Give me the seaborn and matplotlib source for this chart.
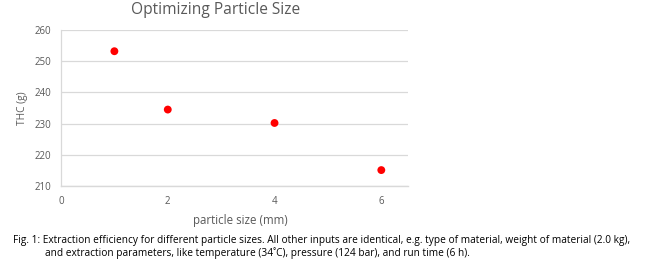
import matplotlib
matplotlib.use("Agg")
import matplotlib.pyplot as plt
import seaborn as sns
import pandas as pd

particle_size = [1, 2, 4, 6]
thc = [253.2, 234.5, 230.2, 215.1]
x_ticks = [0, 2, 4, 6]
y_ticks = [210, 220, 230, 240, 250, 260]

sns.set_style("white")
plt.rcParams['font.family'] = ['Open Sans', 'DejaVu Sans']

df = pd.DataFrame({"particle size (mm)": particle_size, "THC (g)": thc})

fig = plt.figure(figsize=(6.52, 2.62), dpi=100)
ax = fig.add_axes([61/652, 1-186/262, (408-61)/652, (186-30)/262])
sns.scatterplot(data=df, x="particle size (mm)", y="THC (g)", ax=ax,
                color="#ff0000", s=32, edgecolor="none", zorder=3)
ax.set_xlim(0, 6.5)
ax.set_ylim(210, 260)
ax.set_xticks(x_ticks)
ax.set_yticks(y_ticks)
ax.grid(axis="y", color="#d9d9d9", linewidth=0.9)
ax.grid(axis="x", visible=False)
for s in ["top", "right"]:
    ax.spines[s].set_visible(False)
ax.spines["left"].set_color("#d9d9d9")
ax.spines["bottom"].set_color("#d9d9d9")
ax.spines["left"].set_linewidth(0.9)
ax.spines["bottom"].set_linewidth(1.0)
ax.tick_params(axis="both", length=0, labelsize=7, colors="#595959", pad=7)
ax.set_xlabel("particle size (mm)", fontsize=8.3, color="#595959")
ax.xaxis.set_label_coords(0.516, -0.224)
ax.xaxis.label.set_va("center")
ax.set_ylabel("THC (g)", fontsize=7.3, color="#595959", labelpad=5)
fig.text(216/652, 1-10/262, "Optimizing Particle Size", ha="center", va="center",
         fontsize=11.2, color="#595959")
fig.text(13/652, 1-240/262,
         "Fig. 1: Extraction efficiency for different particle sizes. All other inputs are identical, e.g. type of material, weight of material (2.0 kg),",
         ha="left", va="center", fontsize=7.25, color="black")
fig.text(45/652, 1-253/262,
         "and extraction parameters, like temperature (34\u02daC), pressure (124 bar), and run time (6 h).",
         ha="left", va="center", fontsize=7.25, color="black")
fig.savefig("out.png", dpi=100)
